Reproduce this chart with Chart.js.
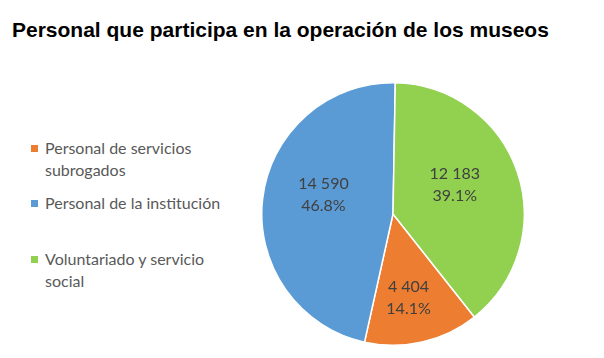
<!DOCTYPE html>
<html>
<head>
<meta charset="utf-8">
<script src="https://cdn.jsdelivr.net/npm/chart.js@4"></script>
<style>
  html, body { margin: 0; padding: 0; background: #fff; }
  body { width: 604px; height: 358px; position: relative; overflow: hidden; }
  #title { position: absolute; left: 12px; top: 18px; font: bold 21px "Liberation Sans", Arial, sans-serif; color: #000; white-space: nowrap; }
  #legend { position: absolute; left: 31px; top: 137px; font: 16px Lato, "Open Sans", sans-serif; color: #595959; }
  .item { position: absolute; left: 0; white-space: nowrap; line-height: 22px; }
  .sw { position: absolute; left: 0; top: 8px; width: 7px; height: 7px; }
  .txt { position: absolute; left: 14px; top: 0; }
  #wrap { position: absolute; left: 261px; top: 82px; width: 264px; height: 264px; }
</style>
</head>
<body>
<div id="title">Personal que participa en la operación de los museos</div>
<div id="legend"></div>
<div id="wrap"><canvas id="c"></canvas></div>
<script>
const categories = ["Personal de servicios subrogados", "Personal de la institución", "Voluntariado y servicio social"];
const legendLines = [["Personal de servicios", "subrogados"], ["Personal de la institución"], ["Voluntariado y servicio", "social"]];
const values = [4404, 14590, 12183];
const percentLabels = ["14.1%", "46.8%", "39.1%"];
const valueLabels = ["4 404", "14 590", "12 183"];
const colors = ["#ED7D31", "#5B9BD5", "#92D050"];

// legend (HTML text)
const legendTops = [0, 55, 111];
const legend = document.getElementById('legend');
legendLines.forEach((lines, i) => {
  const it = document.createElement('div');
  it.className = 'item';
  it.style.top = legendTops[i] + 'px';
  const sw = document.createElement('div');
  sw.className = 'sw';
  sw.style.background = colors[i];
  const tx = document.createElement('div');
  tx.className = 'txt';
  tx.innerHTML = lines.join('<br>');
  it.appendChild(sw); it.appendChild(tx);
  legend.appendChild(it);
});

const total = values.reduce((a, b) => a + b, 0);
// start so that the last slice begins at 12 o'clock
const rotation = 360 * values[2] / total + 1;

// label placement (style): radius fraction and angle tweak (degrees) per slice
const labelRadius = [0.65, 0.55, 0.52];
const labelAngle = [2.4, 8.8, -6.5];
const sliceLabels = {
  id: 'sliceLabels',
  afterDatasetsDraw(chart) {
    const ctx = chart.ctx;
    const meta = chart.getDatasetMeta(0);
    ctx.save();
    ctx.font = '16px Lato, "Open Sans", sans-serif';
    ctx.fillStyle = '#404040';
    ctx.textAlign = 'center';
    ctx.textBaseline = 'middle';
    meta.data.forEach((arc, i) => {
      const p = arc.getProps(['x', 'y', 'startAngle', 'endAngle', 'outerRadius'], true);
      const mid = (p.startAngle + p.endAngle) / 2 + labelAngle[i] * Math.PI / 180;
      const r = p.outerRadius * labelRadius[i];
      const x = p.x + Math.cos(mid) * r;
      const y = p.y + Math.sin(mid) * r;
      ctx.fillText(valueLabels[i], x, y - 11);
      ctx.fillText(percentLabels[i], x, y + 11);
    });
    ctx.restore();
  }
};

new Chart(document.getElementById('c'), {
  type: 'pie',
  data: {
    labels: categories,
    datasets: [{
      data: values,
      backgroundColor: colors,
      borderColor: '#ffffff',
      borderWidth: 1.5,
      hoverOffset: 0
    }]
  },
  options: {
    responsive: true,
    maintainAspectRatio: false,
    animation: false,
    rotation: rotation,
    layout: { padding: 0 },
    plugins: {
      legend: { display: false },
      tooltip: { enabled: false },
      title: { display: false }
    }
  },
  plugins: [sliceLabels]
});
</script>
</body>
</html>
